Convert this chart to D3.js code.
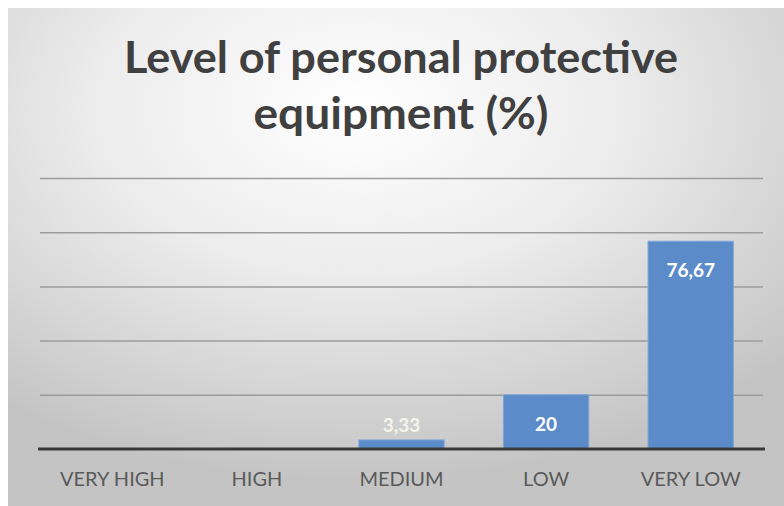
<!DOCTYPE html>
<html>
<head>
<meta charset="utf-8">
<script src="https://cdn.jsdelivr.net/npm/d3@7"></script>
<style>
  body { margin: 0; background: #fff; }
  svg { display: block; }
</style>
</head>
<body>
<script>
// chart values
const categories = ["VERY HIGH", "HIGH", "MEDIUM", "LOW", "VERY LOW"];
const values = [0, 0, 3.33, 20, 76.67];
const labels = ["", "", "3,33", "20", "76,67"];
const yTicks = [0, 20, 40, 60, 80, 100];
const titleLines = ["Level of personal protective", "equipment (%)"];

const width = 784, height = 506;
const margin = {top: 178, left: 40, right: 21, bottom: 57};

const svg = d3.select("body").append("svg")
  .attr("width", width)
  .attr("height", height);

const defs = svg.append("defs");
const grad = defs.append("radialGradient")
  .attr("id", "bg")
  .attr("cx", "45%").attr("cy", "20%").attr("r", "75%");
grad.append("stop").attr("offset", "0%").attr("stop-color", "#ffffff");
grad.append("stop").attr("offset", "45%").attr("stop-color", "#ececec");
grad.append("stop").attr("offset", "100%").attr("stop-color", "#c4c4c4");

svg.append("rect")
  .attr("x", 8).attr("y", 8)
  .attr("width", width - 8).attr("height", height - 8)
  .attr("fill", "url(#bg)");

// title, stretched a little to the width of the original Calibri lines
const titleWidths = [554, 295];
const title = svg.append("g")
  .attr("font-family", "Lato, 'Open Sans', sans-serif")
  .attr("font-weight", "bold")
  .attr("fill", "#404040")
  .attr("text-anchor", "middle");

title.selectAll("text")
  .data(titleLines)
  .enter()
  .append("text")
  .attr("x", 401)
  .attr("y", (d, i) => 73 + i * 56)
  .attr("font-size", 43)
  .attr("textLength", (d, i) => titleWidths[i])
  .attr("lengthAdjust", "spacingAndGlyphs")
  .text(d => d);

const pwidth = width - margin.left - margin.right;
const pheight = height - margin.top - margin.bottom;

const g = svg.append("g").attr("transform", `translate(${margin.left}, ${margin.top})`);

const x = d3.scaleBand()
  .domain(categories)
  .range([0, pwidth])
  .paddingInner(0.41)
  .paddingOuter(0.205);

const y = d3.scaleLinear()
  .domain([0, 100])
  .range([pheight, 0]);

// gridlines
g.append("g")
  .call(d3.axisLeft(y).tickValues(yTicks.slice(1)).tickSize(-pwidth).tickFormat(""))
  .call(a => a.select(".domain").remove())
  .call(a => a.selectAll(".tick line")
    .attr("stroke", "#9c9c9c")
    .attr("stroke-width", 1.5));

// bars
g.selectAll("rect.bar")
  .data(values)
  .enter()
  .append("rect")
  .attr("class", "bar")
  .attr("x", (d, i) => x(categories[i]))
  .attr("y", d => y(d))
  .attr("width", x.bandwidth())
  .attr("height", d => pheight - y(d))
  .attr("fill", "#5b8bc8")
  .attr("stroke", "#7ea6d6")
  .attr("stroke-width", 1)
  .style("display", d => d > 0 ? null : "none");

// value labels (inside end, pushed up when the bar is too short)
const labelY = d => Math.min(y(d) + 36, pheight - 17);
g.selectAll("text.val")
  .data(values)
  .enter()
  .append("text")
  .attr("class", "val")
  .attr("x", (d, i) => x(categories[i]) + x.bandwidth() / 2)
  .attr("y", labelY)
  .attr("text-anchor", "middle")
  .attr("font-family", "Lato, 'Open Sans', sans-serif")
  .attr("font-weight", "bold")
  .attr("font-size", 19)
  .attr("fill", d => y(d) + 36 > pheight - 17 ? "#f4f4ec" : "#ffffff")
  .text((d, i) => labels[i]);

// x axis
const xAxis = g.append("g")
  .attr("transform", `translate(0, ${pheight})`)
  .call(d3.axisBottom(x).tickSize(0).tickPadding(23));

xAxis.select(".domain")
  .attr("stroke", "#3a3a3a")
  .attr("stroke-width", 3)
  .attr("d", `M-2,0H${pwidth + 2}`);

xAxis.selectAll(".tick text")
  .attr("font-family", "Lato, 'Open Sans', sans-serif")
  .attr("font-size", 20)
  .attr("fill", "#5a5a5a");
</script>
</body>
</html>
